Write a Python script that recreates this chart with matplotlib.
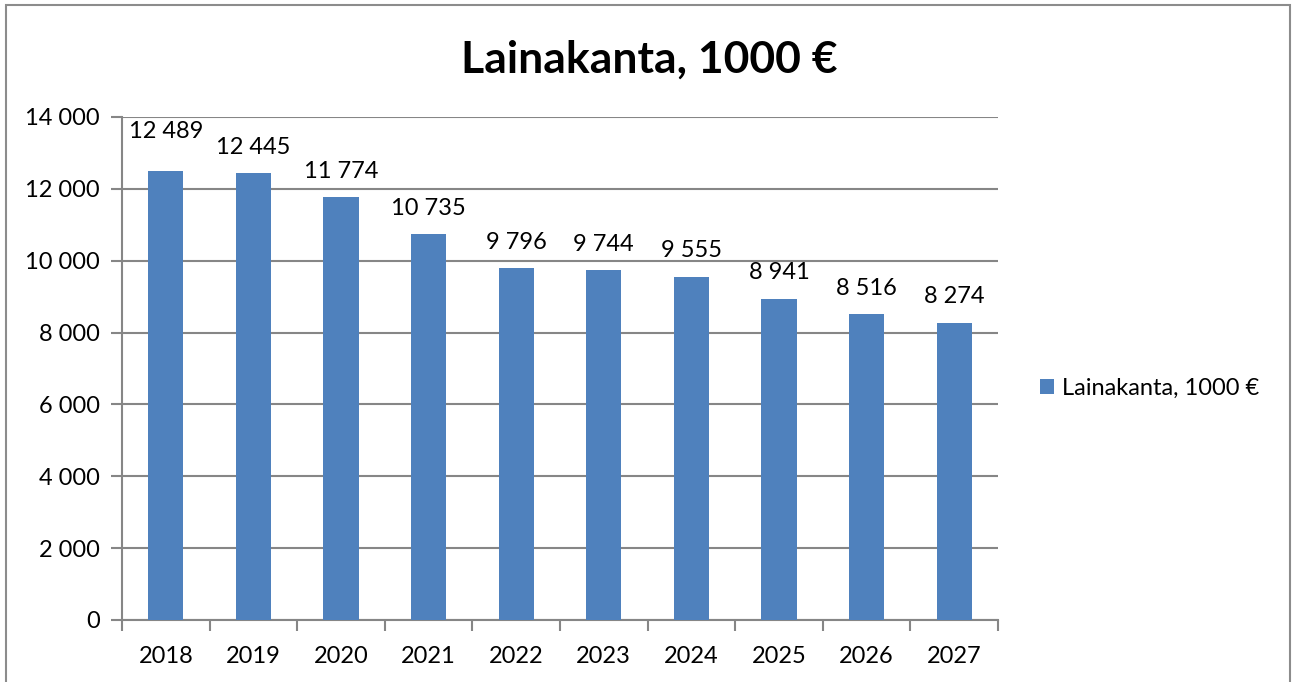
import matplotlib
matplotlib.use("Agg")
import matplotlib.pyplot as plt
from matplotlib.patches import Rectangle
import numpy as np

years = ["2018", "2019", "2020", "2021", "2022", "2023", "2024", "2025", "2026", "2027"]
loans = [12489, 12445, 11774, 10735, 9796, 9744, 9555, 8941, 8516, 8274]
label_offsets = [21, 11, 11, 11, 11, 11, 11, 11, 11, 11]  # points above bar top
yticks = [0, 2000, 4000, 6000, 8000, 10000, 12000, 14000]

series_name = "Lainakanta, 1000 €"
bar_color = "#4F81BD"
grid_color = "#868686"

plt.rcParams["font.family"] = ["Lato", "DejaVu Sans"]


def fmt(v):
    return "{:,}".format(v).replace(",", " ")


fig = plt.figure(figsize=(12.92, 6.82), dpi=100)
ax = fig.add_axes([122 / 1292, 1 - 620 / 682, 876 / 1292, 503 / 682])

x = np.arange(len(years))
bars = ax.bar(x, loans, width=0.4, color=bar_color, label=series_name, zorder=3)

for xi, v, off in zip(x, loans, label_offsets):
    ax.annotate(fmt(v), (xi, v), xytext=(0, off), textcoords="offset points",
                ha="center", va="bottom", fontsize=17, clip_on=False)

ax.set_xlim(-0.5, len(years) - 0.5)
ax.set_ylim(0, 14000)
ax.set_yticks(yticks)
ax.set_yticklabels([fmt(t) for t in yticks], fontsize=17)
ax.set_xticks(x)
ax.set_xticklabels(years, fontsize=17)
ax.set_xticks(np.arange(-0.5, len(years)), minor=True)
ax.tick_params(axis="x", which="major", length=0, pad=19)
ax.tick_params(axis="x", which="minor", length=8, width=1.5, color=grid_color)
ax.tick_params(axis="y", length=8, width=1.5, color=grid_color, pad=8)

ax.grid(axis="y", color=grid_color, linewidth=1.5, zorder=0)
for s in ["top", "right"]:
    ax.spines[s].set_visible(False)
for s in ["left", "bottom"]:
    ax.spines[s].set_color(grid_color)
    ax.spines[s].set_linewidth(1.5)

fig.text(649 / 1292, 1 - 60 / 682, series_name, ha="center", va="center",
         fontsize=32, fontweight="bold")

fig.legend(handles=[bars], labels=[series_name], loc="center left",
           bbox_to_anchor=(1019 / 1292, 1 - 388 / 682), frameon=False,
           fontsize=17, handlelength=0.6, handleheight=0.6, handletextpad=0.3)

fig.patches.append(Rectangle((6 / 1292, -0.05), 1284 / 1292, 1.05 - 5 / 682,
                             transform=fig.transFigure, fill=False,
                             edgecolor="#8c8c8c", linewidth=1.5))

fig.savefig("out.png", dpi=100)
